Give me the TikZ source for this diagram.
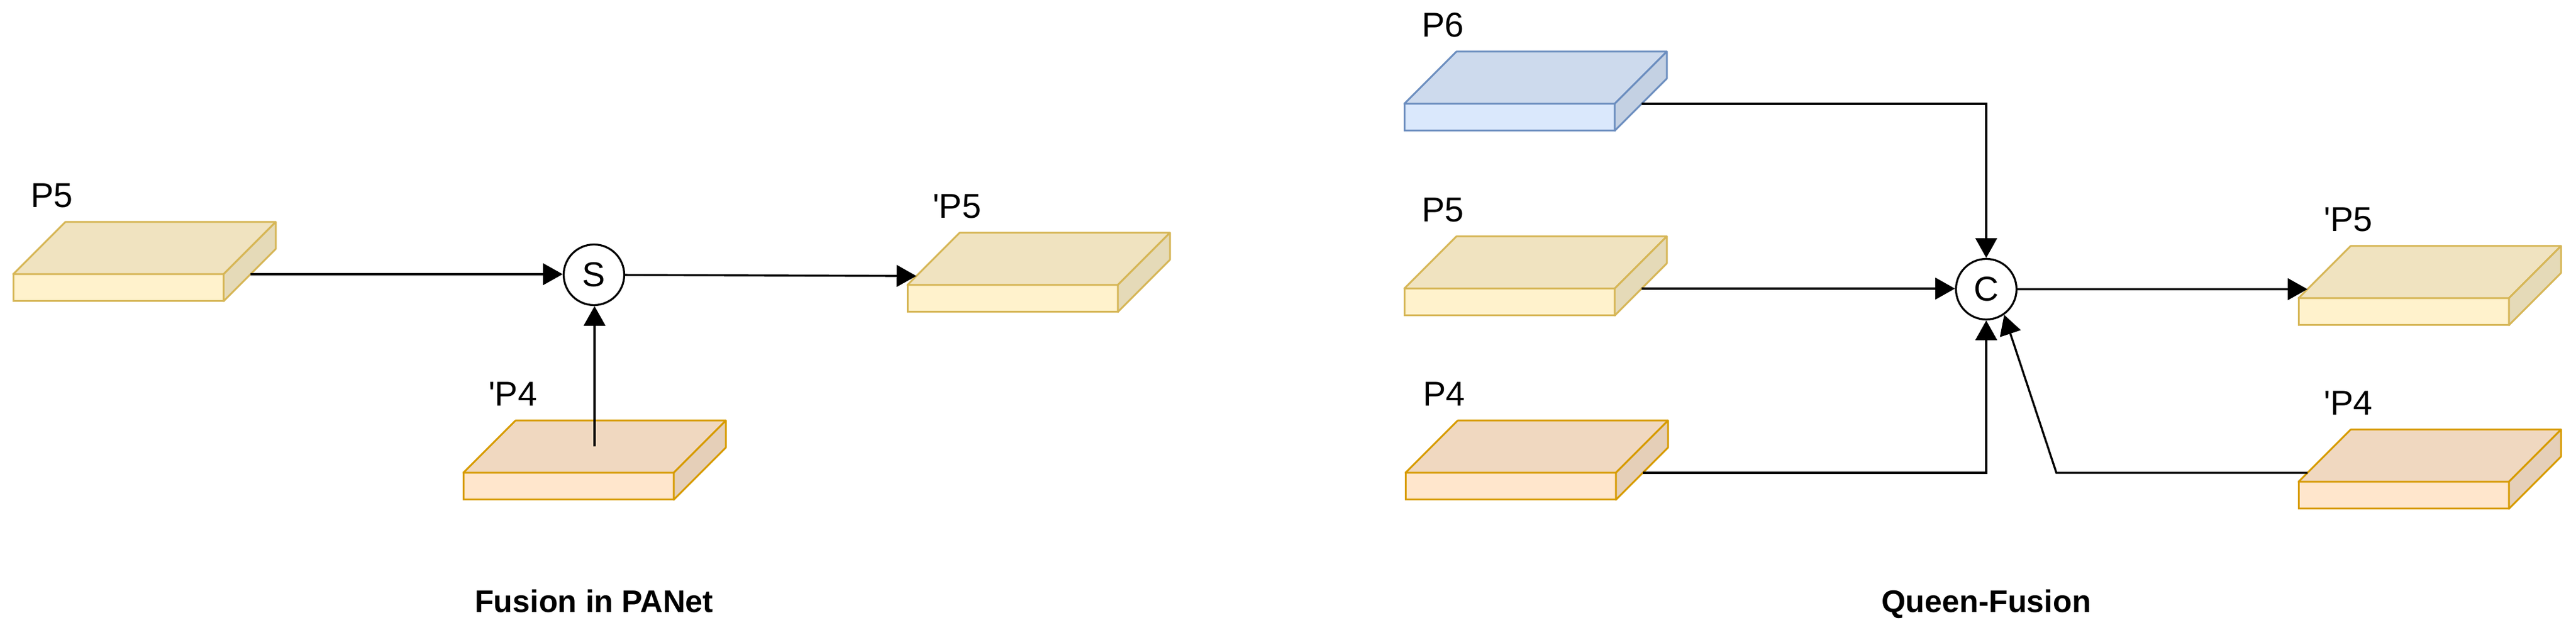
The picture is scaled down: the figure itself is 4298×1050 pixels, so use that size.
\documentclass[tikz,border=0pt]{standalone}
\usepackage{fontspec}
\setmainfont{Liberation Sans}
\usetikzlibrary{arrows.meta}

\definecolor{ylwfill}{HTML}{FFF2CC}
\definecolor{ylwline}{HTML}{D6B656}
\definecolor{orgfill}{HTML}{FFE6CC}
\definecolor{orgline}{HTML}{D79B00}
\definecolor{bluefill}{HTML}{DAE8FC}
\definecolor{blueline}{HTML}{6C8EBF}

\tikzset{
  front/.style={rectangle, inner sep=0pt, outer sep=0pt, minimum width=70.2pt, minimum height=9pt, line width=0.6pt, anchor=south west},
  face/.style={line width=0.6pt, line join=round},
  lbl/.style={inner sep=0pt, anchor=base west, font=\fontsize{11.5}{13}\selectfont},
  op/.style={circle, draw, line width=0.65pt, minimum size=20.2pt, inner sep=0pt, font=\fontsize{11.5}{13}\selectfont},
  arr/.style={line width=0.68pt, -{Triangle[length=6.6pt,width=7.2pt]}},
  caption/.style={inner sep=0pt, anchor=base, font=\bfseries\fontsize{10.4}{12}\selectfont},
}

% flat slab: name, x, y (lower left of front), fill, line
\newcommand{\slab}[5]{
  \node[front, fill=#4, draw=#5] (#1) at (#2,#3) {};
  \draw[face, draw=#5, fill=#4!94!black] (#1.north west) -- ++(87,-87) -- ++(351,0) -- (#1.north east) -- cycle;
  \draw[face, draw=#5, fill=#4!90!black] (#1.north east) -- ++(87,-87) -- ++(0,45) -- (#1.south east) -- cycle;
  \coordinate (#1o) at ([shift={(45,0)}]#1.north east);
  \coordinate (#1i) at ([shift={(15,-15)}]#1.north west);
  \coordinate (#1t) at ([shift={(43.5,-43.5)}]#1.north);
}

\begin{document}
\begin{tikzpicture}[x=0.2pt, y=-0.2pt]
\useasboundingbox (0,0) rectangle (4298,1050);

% Fusion in PANet
\slab{l5}{22}{502}{ylwfill}{ylwline}
\slab{l4p}{773}{833}{orgfill}{orgline}
\slab{l5p}{1514}{520}{ylwfill}{ylwline}
\node[lbl] (l5lbl) at ([shift={(28,-111)}]l5.north west) {P5};
\node[lbl] (l4plbl) at ([shift={(41,-111)}]l4p.north west) {\textquotesingle P4};
\node[lbl] (l5plbl) at ([shift={(41,-111)}]l5p.north west) {\textquotesingle P5};
\node[op] (s) at (991,458) {S};
\draw[arr] (l5o) -- (l5o -| s.west);
\draw[arr] (l4pt) -- (l4pt |- s.south);
\draw[arr] (s) -- (l5pi);
\node[caption] (cap1) at (991,1021) {Fusion in PANet};

% Queen-Fusion
\slab{r6}{2343}{218}{bluefill}{blueline}
\slab{r5}{2343}{526}{ylwfill}{ylwline}
\slab{r4}{2345}{833}{orgfill}{orgline}
\slab{r5p}{3835}{542}{ylwfill}{ylwline}
\slab{r4p}{3835}{848}{orgfill}{orgline}
\node[lbl] (r6lbl) at ([shift={(28,-111)}]r6.north west) {P6};
\node[lbl] (r5lbl) at ([shift={(28,-111)}]r5.north west) {P5};
\node[lbl] (r4lbl) at ([shift={(28,-111)}]r4.north west) {P4};
\node[lbl] (r5plbl) at ([shift={(41,-111)}]r5p.north west) {\textquotesingle P5};
\node[lbl] (r4plbl) at ([shift={(41,-111)}]r4p.north west) {\textquotesingle P4};
\node[op] (c) at (3314,482) {C};
\draw[arr] (r6o) -| (c.north);
\draw[arr] (r5o) -- (r5o -| c.west);
\draw[arr] (r4o) -| (c.south);
\draw[arr] (r4pi) -- ++(-419,0) -- (c.-55);
\draw[arr] (c) -- (r5pi);
\node[caption] (cap2) at (3314,1021) {Queen-Fusion};

\end{tikzpicture}
\end{document}
